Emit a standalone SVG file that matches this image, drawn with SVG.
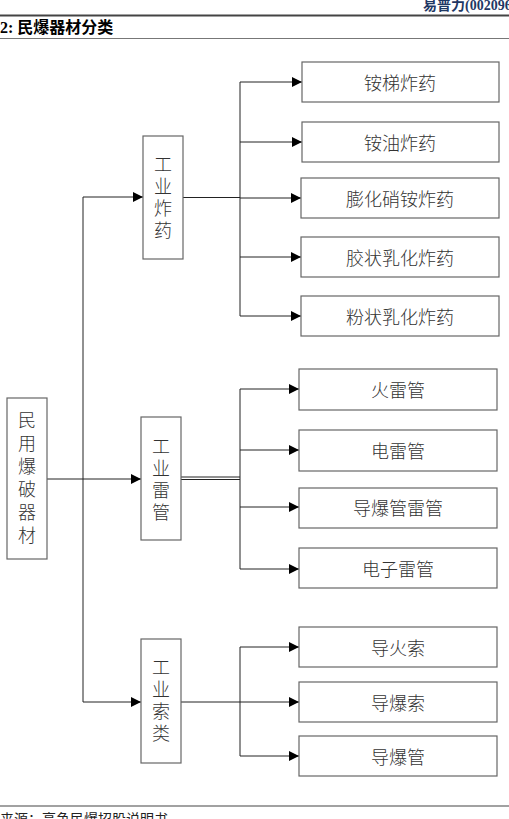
<svg xmlns="http://www.w3.org/2000/svg" width="509" height="819" viewBox="0 0 509 819">
<style>
.box{fill:#fff;stroke:#666;stroke-width:1.2}
.t{font-family:"Noto Sans CJK SC","Liberation Sans",sans-serif;font-size:18px;font-weight:300;fill:#333;text-anchor:middle;dominant-baseline:central}
.v{font-family:"Noto Sans CJK SC","Liberation Sans",sans-serif;font-size:18px;font-weight:300;fill:#333;text-anchor:middle}
.ln{fill:none;stroke:#222;stroke-width:1}
.hd{font-family:"Liberation Serif","Noto Sans CJK SC",serif;font-weight:bold}
</style>
<defs>
<marker id="ar" viewBox="0 0 10 10" refX="10" refY="5" markerWidth="10" markerHeight="10" markerUnits="userSpaceOnUse" orient="auto">
<path d="M0,0 L10,5 L0,10 z" fill="#000"/>
</marker>
</defs>
<rect width="509" height="819" fill="#fff"/>
<g id="header">
<text x="423" y="10" class="hd" font-size="14" fill="#1f3864">易普力(002096</text>
<line x1="0" y1="15.5" x2="509" y2="15.5" stroke="#444" stroke-width="1.8"/>
<text x="0" y="33" class="hd" font-size="16" fill="#000">2:  民爆器材分类</text>
<line x1="0" y1="38.5" x2="509" y2="38.5" stroke="#777" stroke-width="1.2"/>
</g>
<g id="connectors">
<line class="ln" x1="47" y1="479" x2="83" y2="479"/>
<line class="ln" x1="83" y1="197" x2="83" y2="702" stroke="#555"/>
<line class="ln" x1="83" y1="197" x2="143" y2="197" marker-end="url(#ar)"/>
<line class="ln" x1="83" y1="479" x2="141" y2="479" marker-end="url(#ar)"/>
<line class="ln" x1="83" y1="702" x2="141" y2="702" marker-end="url(#ar)"/>
<line class="ln" x1="183" y1="197.5" x2="240" y2="197.5"/>
<line class="ln" x1="240" y1="82" x2="240" y2="316"/>
<line class="ln" x1="240" y1="82" x2="302" y2="82" marker-end="url(#ar)"/>
<line class="ln" x1="240" y1="142" x2="302" y2="142" marker-end="url(#ar)"/>
<line class="ln" x1="240" y1="198" x2="301" y2="198" marker-end="url(#ar)"/>
<line class="ln" x1="240" y1="257" x2="301" y2="257" marker-end="url(#ar)"/>
<line class="ln" x1="240" y1="316" x2="301" y2="316" marker-end="url(#ar)"/>
<line class="ln" x1="181" y1="477" x2="240" y2="477"/>
<line class="ln" x1="181" y1="479.5" x2="240" y2="479.5"/>
<line class="ln" x1="240" y1="389" x2="240" y2="569"/>
<line class="ln" x1="240" y1="389" x2="299" y2="389" marker-end="url(#ar)"/>
<line class="ln" x1="240" y1="450" x2="299" y2="450" marker-end="url(#ar)"/>
<line class="ln" x1="240" y1="507" x2="299" y2="507" marker-end="url(#ar)"/>
<line class="ln" x1="240" y1="569" x2="299" y2="569" marker-end="url(#ar)"/>
<line class="ln" x1="181" y1="702" x2="240" y2="702"/>
<line class="ln" x1="240" y1="647" x2="240" y2="756"/>
<line class="ln" x1="240" y1="647" x2="299" y2="647" marker-end="url(#ar)"/>
<line class="ln" x1="240" y1="702" x2="299" y2="702" marker-end="url(#ar)"/>
<line class="ln" x1="240" y1="756" x2="299" y2="756" marker-end="url(#ar)"/>
</g>
<g id="n-root">
<rect class="box" x="7" y="398" width="40" height="161"/>
<text class="v" x="27" y="427"><tspan x="27">民</tspan><tspan x="27" dy="23">用</tspan><tspan x="27" dy="23">爆</tspan><tspan x="27" dy="23">破</tspan><tspan x="27" dy="23">器</tspan><tspan x="27" dy="23">材</tspan></text>
</g>
<g id="n-explosive">
<rect class="box" x="143" y="136" width="40" height="123"/>
<text class="v" x="163" y="171"><tspan x="163">工</tspan><tspan x="163" dy="22">业</tspan><tspan x="163" dy="22">炸</tspan><tspan x="163" dy="22">药</tspan></text>
</g>
<g id="n-detonator">
<rect class="box" x="141" y="417" width="40" height="123"/>
<text class="v" x="161" y="453"><tspan x="161">工</tspan><tspan x="161" dy="22">业</tspan><tspan x="161" dy="22">雷</tspan><tspan x="161" dy="22">管</tspan></text>
</g>
<g id="n-cord">
<rect class="box" x="141" y="639" width="40" height="124"/>
<text class="v" x="161" y="674"><tspan x="161">工</tspan><tspan x="161" dy="22">业</tspan><tspan x="161" dy="22">索</tspan><tspan x="161" dy="22">类</tspan></text>
</g>
<g id="n-e1"><rect class="box" x="302" y="62" width="197" height="40"/><text class="t" x="400" y="82">铵梯炸药</text></g>
<g id="n-e2"><rect class="box" x="302" y="122" width="197" height="40"/><text class="t" x="400" y="142">铵油炸药</text></g>
<g id="n-e3"><rect class="box" x="301" y="178" width="198" height="40"/><text class="t" x="400" y="198">膨化硝铵炸药</text></g>
<g id="n-e4"><rect class="box" x="301" y="237" width="198" height="40"/><text class="t" x="400" y="257">胶状乳化炸药</text></g>
<g id="n-e5"><rect class="box" x="301" y="296" width="198" height="40"/><text class="t" x="400" y="316">粉状乳化炸药</text></g>
<g id="n-d1"><rect class="box" x="299" y="369" width="198" height="41"/><text class="t" x="398" y="389">火雷管</text></g>
<g id="n-d2"><rect class="box" x="299" y="430" width="198" height="41"/><text class="t" x="398" y="450">电雷管</text></g>
<g id="n-d3"><rect class="box" x="299" y="488" width="198" height="40"/><text class="t" x="398" y="507">导爆管雷管</text></g>
<g id="n-d4"><rect class="box" x="299" y="548" width="198" height="40"/><text class="t" x="398" y="568">电子雷管</text></g>
<g id="n-c1"><rect class="box" x="299" y="627" width="198" height="40"/><text class="t" x="398" y="647">导火索</text></g>
<g id="n-c2"><rect class="box" x="299" y="682" width="198" height="40"/><text class="t" x="398" y="702">导爆索</text></g>
<g id="n-c3"><rect class="box" x="299" y="736" width="198" height="40"/><text class="t" x="398" y="756">导爆管</text></g>
<g id="footer">
<line x1="0" y1="806" x2="509" y2="806" stroke="#444" stroke-width="1.2"/>
<text x="0" y="824" font-family="'Noto Sans CJK SC',sans-serif" font-size="14" fill="#222">来源：高争民爆招股说明书</text>
</g>
</svg>
